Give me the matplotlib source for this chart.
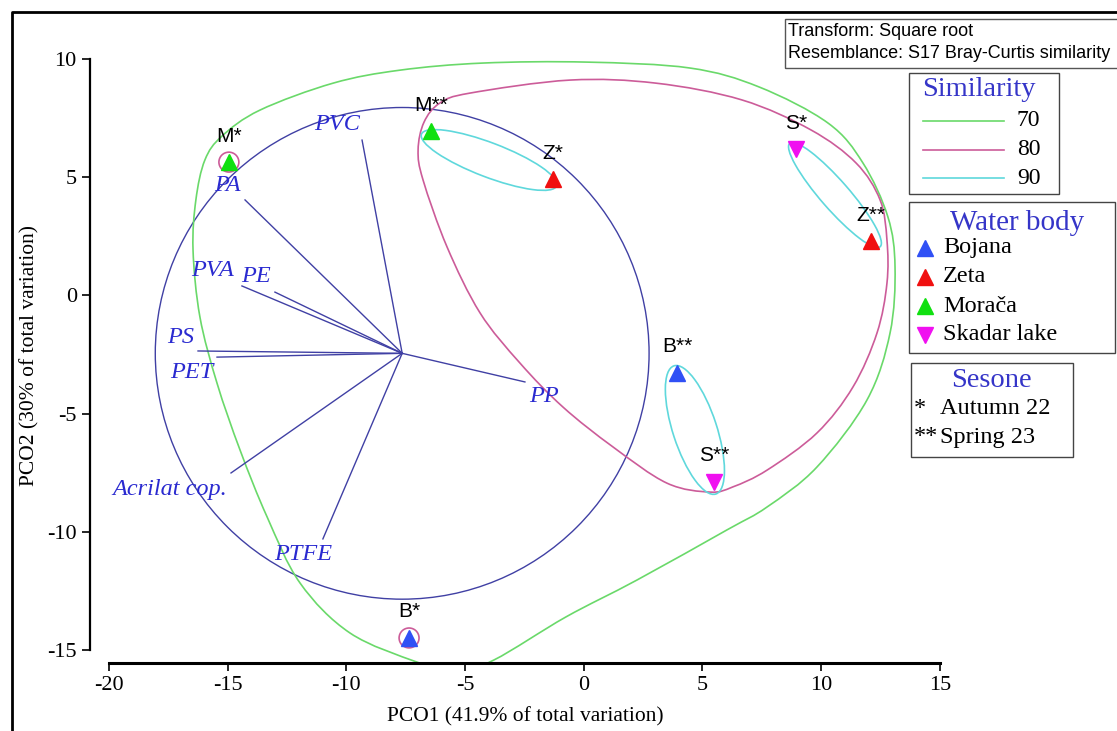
import numpy as np
import matplotlib
matplotlib.use("Agg")
import matplotlib.pyplot as plt
from matplotlib.patches import Circle, Ellipse, PathPatch, Rectangle
from matplotlib.path import Path
from matplotlib.lines import Line2D

# --- samples (PCO scores)
sample_names = ["M*", "M**", "Z*", "Z**", "S*", "S**", "B*", "B**"]
sample_body = ["Morača", "Morača", "Zeta", "Zeta", "Skadar lake", "Skadar lake", "Bojana", "Bojana"]
pco1 = [-14.95, -6.44, -1.30, 12.10, 8.94, 5.48, -7.36, 3.93]
pco2 = [5.64, 6.95, 4.92, 2.30, 6.19, -7.89, -14.49, -3.28]

bodies = ["Bojana", "Zeta", "Morača", "Skadar lake"]
body_colors = ["#3050f5", "#f01010", "#10e010", "#f010f0"]
body_markers = ["^", "^", "^", "v"]

seasons = ["Autumn 22", "Spring 23"]
season_marks = ["*", "**"]

# --- vector overlay (polymer types)
vec_names = ["PVC", "PA", "PVA", "PE", "PS", "PET", "Acrilat cop.", "PTFE", "PP"]
vec_x = [-9.34, -14.27, -14.40, -13.01, -16.25, -15.45, -14.86, -10.99, -2.48]
vec_y = [6.57, 4.04, 0.40, 0.14, -2.35, -2.61, -7.51, -10.30, -3.66]
lab_x = [-10.40, -15.03, -15.62, -13.81, -16.97, -16.50, -17.43, -11.83, -1.68]
lab_y = [7.21, 4.63, 1.07, 0.78, -1.76, -3.24, -8.19, -10.94, -4.26]
vec_origin = (-7.65, -2.45)
vec_radius = 10.4

# --- similarity outlines
sim_levels = ["70", "80", "90"]
sim_colors = ["#6ad96a", "#cc5c99", "#5fd8dc"]

green_x = [-16.46, -16.34, -15.96, -15.24, -13.64, -10.56, -7.74, -4.25, 0.13, 4.47,
           7.38, 10.29, 11.76, 12.81, 13.11, 12.90, 11.93, 9.82, 7.72, 6.03,
           2.24, -0.75, -3.78, -5.43, -7.03, -9.85, -11.95, -13.34, -14.48, -15.45, -16.17]
green_y = [1.92, 4.04, 5.73, 6.74, 7.84, 8.98, 9.53, 9.83, 9.87, 9.62,
           8.82, 7.29, 5.60, 3.32, 1.20, -1.59, -4.42, -7.26, -8.95, -9.92,
           -12.04, -13.60, -15.42, -15.93, -15.51, -14.28, -12.17, -9.37, -6.54, -3.71, -0.91]

pink_x = [-6.98, -6.73, -6.06, -4.79, -0.58, 3.04, 6.66, 9.57, 11.47, 12.48, 12.77,
          12.77, 12.35, 11.34, 9.82, 7.72, 6.28, 5.32, 3.50, 1.23, -0.88, -2.69, -4.37,
          -5.76, -6.77]
pink_y = [6.15, 7.33, 8.14, 8.56, 9.11, 8.98, 8.27, 7.00, 5.60, 4.04, 2.34,
          0.52, -1.59, -3.87, -5.82, -7.39, -8.10, -8.32, -7.94, -6.41, -4.72, -2.86, -0.74,
          2.05, 4.88]
pink_single = ["M*", "B*"]
pink_single_r = 0.42

cyan_cx = [-3.99, 10.58, 4.68]
cyan_cy = [5.73, 4.25, -5.69]
cyan_w = [6.1, 5.8, 5.7]
cyan_h = [1.45, 1.2, 1.85]
cyan_ang = [-21, -49, -72]


def smooth_closed(xs, ys):
    p = np.column_stack([xs, ys])
    n = len(p)
    verts = [p[0]]
    codes = [Path.MOVETO]
    for i in range(n):
        p0, p1, p2, p3 = p[i - 1], p[i], p[(i + 1) % n], p[(i + 2) % n]
        verts += [p1 + (p2 - p0) / 6, p2 - (p3 - p1) / 6, p2]
        codes += [Path.CURVE4] * 3
    return Path(verts, codes)


W, H = 1117, 731
plt.rcParams['font.family'] = ['Liberation Serif', 'DejaVu Serif']
fig = plt.figure(figsize=(W / 100, H / 100), dpi=100)

# axes placed so that the scale matches the original (about 23.7 px per unit)
ax = fig.add_axes([90 / W, (H - 663) / H, (W - 90) / W, (663 - 12) / H])
ax.set_xlim(-20.80, 22.46)
ax.set_ylim(-15.55, 11.99)
ax.patch.set_alpha(0)
for s in ["top", "right"]:
    ax.spines[s].set_visible(False)
ax.spines["left"].set_bounds(-15, 10)
ax.spines["bottom"].set_bounds(-20, 15)
ax.spines["left"].set_linewidth(1.6)
ax.spines["bottom"].set_linewidth(2.2)
ax.set_xticks(np.arange(-20, 16, 5))
ax.set_yticks(np.arange(-15, 11, 5))
ax.tick_params(direction="out", length=6, width=1.2, labelsize=16)
ax.set_xticklabels([str(v) for v in range(-20, 16, 5)])
ax.set_yticklabels([str(v) for v in range(-15, 11, 5)])
ax.set_xlabel("PCO1 (41.9% of total variation)", fontsize=15.5)
ax.xaxis.set_label_coords((525 - 90) / (W - 90), -0.068)
ax.set_ylabel("PCO2 (30% of total variation)", fontsize=15.5)
ax.yaxis.set_label_coords(-(90 - 39) / (W - 90), (663 - 355) / (663 - 12))

# vector circle and lines
ax.add_patch(Circle(vec_origin, vec_radius, fill=False, ec="#4040a4", lw=1.0))
for nm, vx, vy, tx, ty in zip(vec_names, vec_x, vec_y, lab_x, lab_y):
    ax.plot([vec_origin[0], vx], [vec_origin[1], vy], color="#4040a4", lw=1.0)
    ax.text(tx, ty, nm, color="#2a2ad0", fontsize=17.5, style="italic",
            ha="center", va="center")

# similarity outlines
ax.add_patch(PathPatch(smooth_closed(green_x, green_y), fill=False, ec=sim_colors[0], lw=1.2))
ax.add_patch(PathPatch(smooth_closed(pink_x, pink_y), fill=False, ec=sim_colors[1], lw=1.2))
for nm in pink_single:
    i = sample_names.index(nm)
    ax.add_patch(Circle((pco1[i], pco2[i]), pink_single_r, fill=False, ec=sim_colors[1], lw=1.2))
for cx, cy, w, h, a in zip(cyan_cx, cyan_cy, cyan_w, cyan_h, cyan_ang):
    ax.add_patch(Ellipse((cx, cy), w, h, angle=a, fill=False, ec=sim_colors[2], lw=1.2))

# sample points
for nm, b, x, y in zip(sample_names, sample_body, pco1, pco2):
    k = bodies.index(b)
    ax.plot(x, y, marker=body_markers[k], color=body_colors[k], ms=12, mec=body_colors[k], zorder=5)
    ax.annotate(nm, (x, y), xytext=(0, 26), textcoords="offset pixels", ha="center",
                va="center", fontsize=15, family=["Liberation Sans", "DejaVu Sans"], zorder=6)


# --- legend boxes (figure pixel positions)
def fx(px):
    return px / W


def fy(py):
    return 1 - py / H


def box(x0, y0, x1, y1, ec="#444444"):
    fig.add_artist(Rectangle((fx(x0), fy(y1)), (x1 - x0) / W, (y1 - y0) / H,
                             transform=fig.transFigure, fill=False, ec=ec, lw=1.0))


sans = ["Liberation Sans", "DejaVu Sans"]
box(785, 19, 1130, 68, ec="#555555")
fig.text(fx(788), fy(32), "Transform: Square root", fontsize=13, family=sans, va="center")
fig.text(fx(788), fy(54), "Resemblance: S17 Bray-Curtis similarity", fontsize=13, family=sans, va="center")

title_col = "#3535c8"
box(909, 73, 1059, 194)
fig.text(fx(979), fy(90), "Similarity", fontsize=20.5, color=title_col, ha="center", va="center")
for i, (lev, c) in enumerate(zip(sim_levels, sim_colors)):
    yy = fy(121 + 28.5 * i)
    fig.add_artist(Line2D([fx(923), fx(1004)], [yy, yy], color=c, lw=1.2, transform=fig.transFigure))
    fig.text(fx(1017), yy, lev, fontsize=17, va="center")

box(909, 202, 1115, 353)
fig.text(fx(1017), fy(223), "Water body", fontsize=21, color=title_col, ha="center", va="center")
for i, (b, c, m) in enumerate(zip(bodies, body_colors, body_markers)):
    yy = fy(248 + 29 * i)
    fig.add_artist(Line2D([fx(925)], [yy], marker=m, color=c, ms=12, transform=fig.transFigure))
    fig.text(fx(943), yy, b, fontsize=17.5, va="center")

box(911, 363, 1073, 457)
fig.text(fx(991), fy(380), "Sesone", fontsize=20.5, color=title_col, ha="center", va="center")
for i, (sm, sn) in enumerate(zip(season_marks, seasons)):
    yy = fy(409 + 28 * i)
    fig.text(fx(914), yy, sm, fontsize=17.5, va="center")
    fig.text(fx(940), yy, sn, fontsize=17.5, va="center")

# outer frame
fig.add_artist(Line2D([fx(12), fx(12), fx(1117)], [fy(731), fy(12), fy(12)], color="black",
                      lw=2.0, transform=fig.transFigure))

fig.savefig("out.png", dpi=100)
